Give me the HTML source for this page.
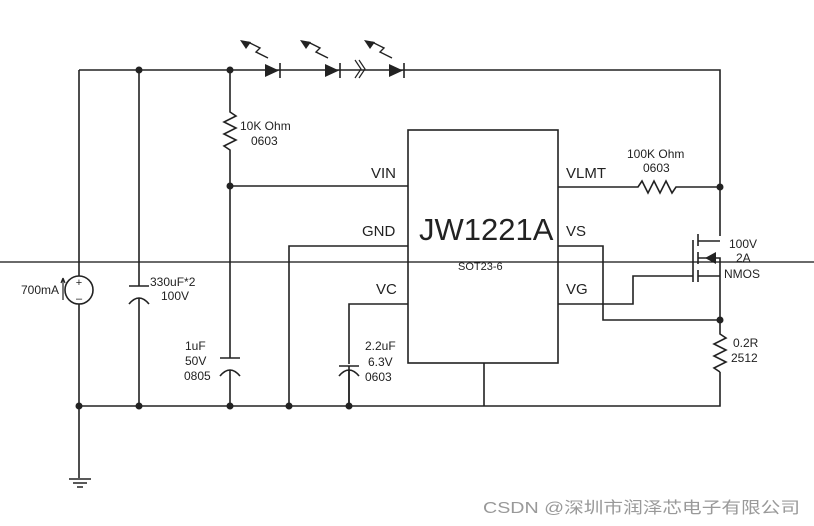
<!DOCTYPE html><html><head><style>body{margin:0;background:#fff}svg{display:block}text{font-family:"Liberation Sans",Arial,sans-serif;fill:#222}</style></head><body>
<svg width="814" height="526" viewBox="0 0 814 526" xmlns="http://www.w3.org/2000/svg">
<g stroke="#222" stroke-width="1.6" fill="none">
<line x1="0" y1="262" x2="814" y2="262" stroke-width="1.2" stroke="#111"/>
<path d="M79 70H720V236"/>
<path d="M79 70V276M79 304V478"/>
<path d="M69 479h22M73 483h14M77 487h6"/>
<circle cx="79" cy="290" r="14"/>
<path d="M63 300V278M63 278l-2 5M63 278l2 5" stroke-width="1.2"/>
<path d="M139 70V286M139 298V406M129 286h20"/>
<path d="M129 304q10 -12 20 0"/>
<path d="M230 70V112l6 4l-12 6l12 6l-12 6l12 6l-12 6l6 4V358M220 358h20M230 370V406"/>
<path d="M220 376q10 -12 20 0"/>
<path d="M230 186H408"/>
<path d="M289 406V246H408"/>
<path d="M349 406V366M339 366h20M349 364V304H408"/>
<path d="M339 376q10 -12 20 0M349 370V406"/>
<path d="M79 406H720V372M484 406V363"/>
<rect x="408" y="130" width="150" height="233"/>
<path d="M558 187H638l4 -6l6 12l6 -12l6 12l6 -12l6 12l4 -6H720"/>
<path d="M558 246H603V320H720"/>
<path d="M558 304H633V276H693M693 240V282"/>
<path d="M698 234V246M698 252V264M698 270V282"/>
<path d="M698 241H720M698 258H720V320M698 276H720"/>
<path d="M720 320V334l6 4l-12 6l12 6l-12 6l12 6l-12 6l6 4"/>
</g>
<polygon points="705,258 716,252 716,264" fill="#222"/>
<g fill="#222">
<circle cx="139" cy="70" r="3.5"/><circle cx="230" cy="70" r="3.5"/>
<circle cx="230" cy="186" r="3.5"/><circle cx="720" cy="187" r="3.5"/>
<circle cx="720" cy="320" r="3.5"/>
<circle cx="79" cy="406" r="3.5"/><circle cx="139" cy="406" r="3.5"/><circle cx="230" cy="406" r="3.5"/><circle cx="289" cy="406" r="3.5"/><circle cx="349" cy="406" r="3.5"/>
<polygon points="265,64 265,77 279,70.5"/><polygon points="325,64 325,77 339,70.5"/><polygon points="389,64 389,77 403,70.5"/>
</g>
<g stroke="#222" stroke-width="1.6" fill="none">
<path d="M280 63V78M340 63V78M404 63V78"/>
<path d="M268 58l-12 -6l4 -4l-12 -6M328 58l-12 -6l4 -4l-12 -6M392 58l-12 -6l4 -4l-12 -6" stroke-width="1.4"/>
<path d="M359 60l6 9l-6 9M355 60l6 9l-6 9" stroke-width="1.2"/>
</g>
<g fill="#222">
<polygon points="240,40 251,42 246,49"/><polygon points="300,40 311,42 306,49"/><polygon points="364,40 375,42 370,49"/>
</g>
<text x="79" y="286" font-size="11" text-anchor="middle">+</text>
<text x="79" y="302" font-size="11" text-anchor="middle">–</text>
<text x="21" y="294" font-size="12">700mA</text>
<text x="150" y="286" font-size="12">330uF*2</text>
<text x="161" y="300" font-size="12">100V</text>
<text x="185" y="350" font-size="12">1uF</text>
<text x="185" y="365" font-size="12">50V</text>
<text x="184" y="380" font-size="12">0805</text>
<text x="240" y="130" font-size="12">10K Ohm</text>
<text x="251" y="145" font-size="12">0603</text>
<text x="365" y="350" font-size="12">2.2uF</text>
<text x="368" y="366" font-size="12">6.3V</text>
<text x="365" y="381" font-size="12">0603</text>
<text x="371" y="178" font-size="15">VIN</text>
<text x="362" y="236" font-size="15">GND</text>
<text x="376" y="294" font-size="15">VC</text>
<text x="566" y="178" font-size="15">VLMT</text>
<text x="566" y="236" font-size="15">VS</text>
<text x="566" y="294" font-size="15">VG</text>
<text x="419" y="240" font-size="31">JW1221A</text>
<text x="458" y="270" font-size="11">SOT23-6</text>
<text x="627" y="158" font-size="12">100K Ohm</text>
<text x="643" y="172" font-size="12">0603</text>
<text x="729" y="248" font-size="12">100V</text>
<text x="736" y="262" font-size="12">2A</text>
<text x="724" y="278" font-size="12">NMOS</text>
<text x="733" y="347" font-size="12">0.2R</text>
<text x="731" y="362" font-size="12">2512</text>
<text x="483" y="513" font-size="16" textLength="317" lengthAdjust="spacingAndGlyphs" style="fill:#999;font-family:'Liberation Sans','Noto Sans CJK SC',sans-serif">CSDN @深圳市润泽芯电子有限公司</text>
</svg>
</body></html>
